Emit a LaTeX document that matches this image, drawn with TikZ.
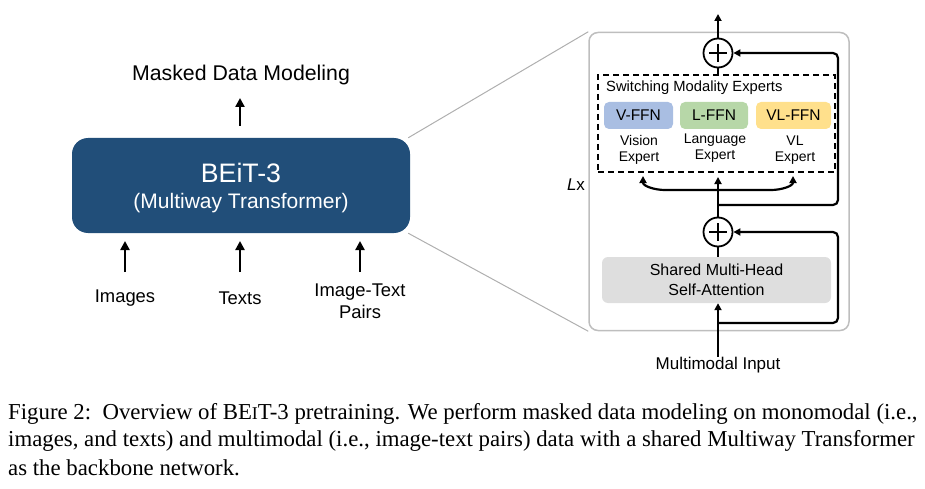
\documentclass[tikz,border=0pt]{standalone}
\usepackage{fontspec}
\setmainfont{Liberation Sans}
\newfontfamily\capfont{Liberation Serif}
\usetikzlibrary{arrows.meta,calc}
\definecolor{beitblue}{RGB}{33,78,121}
\definecolor{vffn}{RGB}{169,190,226}
\definecolor{lffn}{RGB}{183,215,168}
\definecolor{vlffn}{RGB}{255,224,140}
\definecolor{mhsagrey}{RGB}{222,222,222}
\definecolor{panelgrey}{RGB}{190,190,190}
\definecolor{zoomgrey}{RGB}{175,175,175}
\tikzset{
  bigarr/.style={line width=2.6pt,-{Triangle[length=9pt,width=9pt]}},
  arr/.style={line width=2.2pt,-{Triangle[length=7pt,width=7pt]}},
  ln/.style={line width=2.2pt},
  lbl/.style={font=\fontsize{18.4}{22}\selectfont,align=center,inner sep=0pt},
  slbl/.style={font=\fontsize{14}{16}\selectfont,align=center,inner sep=0pt},
  ffn/.style={rounded corners=5pt,minimum width=69pt,minimum height=27pt,inner sep=0pt,font=\fontsize{15.5}{17}\selectfont},
  plusnode/.style={circle,draw,line width=1.8pt,fill=white,minimum size=29pt,inner sep=0pt},
  caplbl/.style={font=\capfont\fontsize{22.8}{27}\selectfont,anchor=west,inner sep=0pt}
}
\begin{document}
\begin{tikzpicture}[x=1pt,y=-1pt]
\useasboundingbox (0,0) rectangle (925,489);
% left part
\node[rounded corners=16pt,fill=beitblue,minimum width=338pt,minimum height=95pt,inner sep=0pt] (beit) at (241,185.5) {};
\node[font=\fontsize{26.7}{30}\selectfont,text=white,inner sep=0pt] (beittitle) at (241,173) {BEiT-3};
\node[font=\fontsize{21}{24}\selectfont,text=white,inner sep=0pt] (beitsub) at (241,203) {(Multiway Transformer)};
\node[font=\fontsize{21.3}{24}\selectfont,inner sep=0pt] (mdm) at (241,75) {Masked Data Modeling};
\coordinate (mdmarr) at (240,126);
\draw[bigarr] (mdmarr) -- (240,98);
\node[lbl] (images) at (125,298) {Images};
\node[lbl] (texts) at (240,298) {Texts};
\node[lbl] (pairs) at (360,301) {Image-Text\\Pairs};
\coordinate (a1) at (125,272);
\coordinate (a2) at (240,272);
\coordinate (a3) at (360,272);
\draw[bigarr] (a1) -- (125,241);
\draw[bigarr] (a2) -- (240,241);
\draw[bigarr] (a3) -- (360,241);
% panel
\node[draw=panelgrey,line width=1.5pt,rounded corners=9pt,minimum width=260pt,minimum height=298pt,inner sep=0pt] (panel) at (719,181.5) {};
\draw[zoomgrey,line width=1pt] (beit.north east) ++(-2,0) -- (panel.north west);
\draw[zoomgrey,line width=1pt] (beit.south east) ++(-2,0) -- (panel.south west);
\node[font=\fontsize{17}{19}\selectfont,inner sep=0pt] (lx) at (576,185) {\textit{L}x};
% dashed box
\node[draw,dashed,line width=2pt,dash pattern=on 6pt off 4pt,minimum width=237pt,minimum height=97pt,inner sep=0pt] (swbox) at (716.5,123.5) {};
\node[font=\fontsize{14.75}{16}\selectfont,inner sep=0pt,anchor=west] (swtitle) at (606,88) {Switching Modality Experts};
\node[ffn,fill=vffn] (v) at (638.5,115.5) {V-FFN};
\node[ffn,fill=lffn,minimum width=68pt] (l) at (714,115.5) {L-FFN};
\node[ffn,fill=vlffn,minimum width=75pt] (vl) at (793.5,115.5) {VL-FFN};
\node[slbl] (vexp) at (639,150) {Vision\\Expert};
\node[slbl] (lexp) at (715,148) {Language\\Expert};
\node[slbl] (vlexp) at (795,150) {VL\\Expert};
% plus nodes
\node[plusnode] (topplus) at (718,53) {};
\draw[line width=1.8pt] (topplus.center) ++(-9,0) -- ++(18,0);
\draw[line width=1.8pt] (topplus.center) ++(0,-9) -- ++(0,18);
\node[plusnode] (lowplus) at (718,232) {};
\draw[line width=1.8pt] (lowplus.center) ++(-9,0) -- ++(18,0);
\draw[line width=1.8pt] (lowplus.center) ++(0,-9) -- ++(0,18);
% mhsa
\node[fill=mhsagrey,rounded corners=6pt,minimum width=229pt,minimum height=46pt,inner sep=0pt,align=center,font=\fontsize{16}{20}\selectfont] (mhsa) at (716.5,280) {Shared Multi-Head\\Self-Attention};
\node[font=\fontsize{17}{20}\selectfont,inner sep=0pt] (input) at (718,365) {Multimodal Input};
% connectors
\coordinate (outtop) at (718,14);
\draw[arr] (topplus.north) -- (outtop);
\draw[ln] (topplus.south) -- (topplus.south |- swbox.north);
\coordinate (r1) at (718,205);
\draw[arr,rounded corners=5pt] (r1) -- (838,205) -- (838,53) -- (topplus.east);
\coordinate (r2) at (718,323);
\draw[arr,rounded corners=5pt] (r2) -- (838,323) -- (838,232) -- (lowplus.east);
\draw[arr] (input.north) -- (mhsa.south -| input.north);
\draw[ln] (mhsa.north -| lowplus.south) -- (lowplus.south);
\draw[arr] (lowplus.north) -- ($(lowplus.north |- swbox.south)+(0,4)$);
\coordinate (branch) at (718,190);
\coordinate (lt) at (643,176);
\coordinate (rt) at (793,176);
\draw[arr] (branch) -- (665,190) to[out=180,in=-90] (lt);
\draw[arr] (branch) -- (771,190) to[out=0,in=-90] (rt);
% caption
\node[caplbl] (cap1) at (8,414) {Figure 2:\ \ Overview of BE{\fontsize{18}{20}\selectfont I}T-3 pretraining. We perform masked data modeling on monomodal (i.e.,};
\node[caplbl] (cap2) at (8,441) {images, and texts) and multimodal (i.e., image-text pairs) data with a shared Multiway Transformer};
\node[caplbl] (cap3) at (8,468) {as the backbone network.};
\end{tikzpicture}
\end{document}
